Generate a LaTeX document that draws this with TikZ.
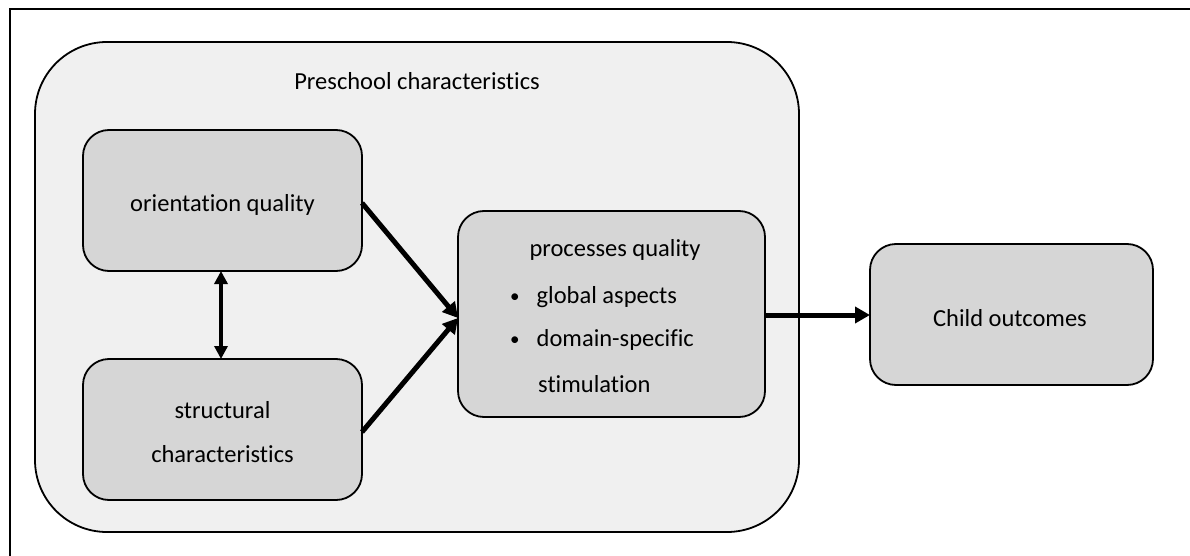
\documentclass[tikz,border=0pt]{standalone}
\usepackage{fontspec}
\setmainfont{Carlito}[Ligatures=NoCommon]
\usetikzlibrary{arrows.meta}
\definecolor{outerfill}{HTML}{F0F0F0}
\definecolor{innerfill}{HTML}{D6D6D6}
\newcommand{\smbul}{\raisebox{1pt}{\fontsize{19}{20}\selectfont\textbullet}}
\tikzset{
  px/.style={x=1pt,y=-1pt},
  inbox/.style={draw=black, line width=1.8pt, fill=innerfill, rounded corners=26pt},
  bigbox/.style={draw=black, line width=1.8pt, fill=outerfill, rounded corners=72pt},
  lbl/.style={font=\fontsize{24.5}{29}\selectfont, align=center, inner sep=0pt},
  thick arrow/.style={line width=5pt, -{Triangle[length=15pt,width=16pt]}},
  dbl arrow/.style={line width=4pt, {Triangle[length=13pt,width=13pt]}-{Triangle[length=13pt,width=13pt]}}
}
\begin{document}
\begin{tikzpicture}[px]
\useasboundingbox (0,0) rectangle (1190,556);
% partial frame (top and left edges)
\draw[line width=2pt] (10,556) -- (10,9.5) -- (1190,9.5);
% outer container
\path[bigbox] (35,42) rectangle (799,532);
\node[lbl] (title) at (417,81) {Preschool characteristics};
% boxes
\path[inbox] (83,130) rectangle (362,271);
\node[lbl] (orient) at (222.5,205) {orientation quality};
\coordinate (orientR) at (362,203);
\coordinate (orientB) at (221,271);
\path[inbox] (83,359) rectangle (362,500);
\node[lbl] (struct) at (222.5,432) {structural\\[15pt]characteristics};
\coordinate (structR) at (362,432);
\coordinate (structT) at (221,359);
\path[inbox] (458,211) rectangle (765,417);
\node[lbl] (proc) at (615,250) {processes quality};
\node[lbl, anchor=west] (b1) at (510,297) {\smbul\hspace{17pt}global aspects};
\node[lbl, anchor=west] (b2) at (510,340) {\smbul\hspace{17pt}domain-specific};
\node[lbl, anchor=west] (b3) at (538,384) {stimulation};
\coordinate (procL) at (458,318);
\coordinate (procR) at (765,315);
\path[inbox] (870,244) rectangle (1153,385);
\node[lbl] (child) at (1010,318) {Child outcomes};
\coordinate (childL) at (870,315);
% connectors
\draw[dbl arrow] (orientB) -- (structT);
\draw[thick arrow] (orientR) -- (procL);
\draw[thick arrow] (structR) -- (procL);
\draw[thick arrow] (procR) -- (childL);
\end{tikzpicture}
\end{document}
